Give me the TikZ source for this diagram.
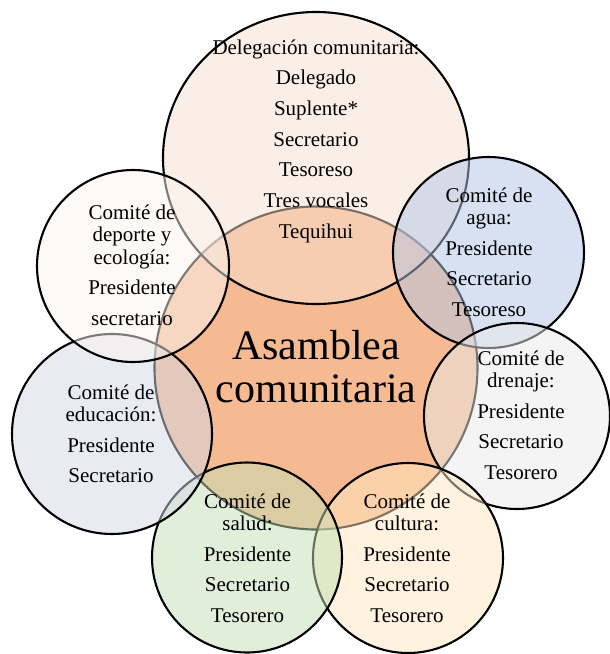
\documentclass[tikz,border=0pt]{standalone}
\usepackage{fontspec}
\setmainfont{Liberation Serif}
\definecolor{cOrange}{RGB}{245,186,146}
\definecolor{cTop}{RGB}{247,225,207}
\definecolor{cAgua}{RGB}{179,197,231}
\definecolor{cDren}{RGB}{235,235,235}
\definecolor{cCult}{RGB}{255,233,193}
\definecolor{cSalud}{RGB}{197,223,181}
\definecolor{cEdu}{RGB}{211,217,229}
\definecolor{cDep}{RGB}{250,244,240}
\begin{document}
\begin{tikzpicture}[x=1pt,y=-1pt,
  ring/.style={line width=2.1pt, draw=black},
  glass/.style={ring, fill opacity=0.5},
  lbl/.style={anchor=base, inner sep=0pt, font=\fontsize{21}{23}\selectfont, text=black},
  big/.style={anchor=base, inner sep=0pt, font=\fontsize{42}{43}\selectfont, text=black}]
\useasboundingbox (0,0) rectangle (610,654);
\fill[white] (0,0) rectangle (610,654);
% circles
\draw[ring, fill=cOrange] (316,368) circle[radius=161.5pt];
\draw[glass, fill=cTop] (316,158) ellipse[x radius=153pt, y radius=146pt];
\draw[glass, fill=cAgua] (488.5,252.5) circle[radius=95.5pt];
\draw[glass, fill=cDren] (517,416) circle[radius=93pt];
\draw[glass, fill=cCult] (408,558) circle[radius=95pt];
\draw[glass, fill=cSalud] (247,557.5) circle[radius=95pt];
\draw[glass, fill=cEdu] (112,434) circle[radius=100pt];
\draw[glass, fill=cDep] (133,266) circle[radius=96pt];
% texts
\node[big] (asam1) at (316,359) {Asamblea};
\node[big] (asam2) at (316,402) {comunitaria};
\foreach \t/\y [count=\i] in {Delegación comunitaria:/54, Delegado/84.7, Suplente*/115.4, Secretario/146.1, Tesoreso/176.8, Tres vocales/207.5, Tequihui/238.2}
  \node[lbl] (top\i) at (316,\y) {\t};
\foreach \t/\y [count=\i] in {Comité de/219, deporte y/241.5, ecología:/264, Presidente/294.5, secretario/325}
  \node[lbl] (dep\i) at (132,\y) {\t};
\foreach \t/\y [count=\i] in {Comité de/399, educación:/421.5, Presidente/452, Secretario/482.5}
  \node[lbl] (edu\i) at (111,\y) {\t};
\foreach \t/\y [count=\i] in {Comité de/202, agua:/224.5, Presidente/255, Secretario/285.5, Tesoreso/316}
  \node[lbl] (agua\i) at (489,\y) {\t};
\foreach \t/\y [count=\i] in {Comité de/365, drenaje:/387.5, Presidente/418, Secretario/448.5, Tesorero/479}
  \node[lbl] (dren\i) at (521,\y) {\t};
\foreach \t/\y [count=\i] in {Comité de/508, salud:/530.5, Presidente/561, Secretario/591.5, Tesorero/622}
  \node[lbl] (sal\i) at (247.5,\y) {\t};
\foreach \t/\y [count=\i] in {Comité de/508, cultura:/530.5, Presidente/561, Secretario/591.5, Tesorero/622}
  \node[lbl] (cul\i) at (407,\y) {\t};
\end{tikzpicture}
\end{document}
